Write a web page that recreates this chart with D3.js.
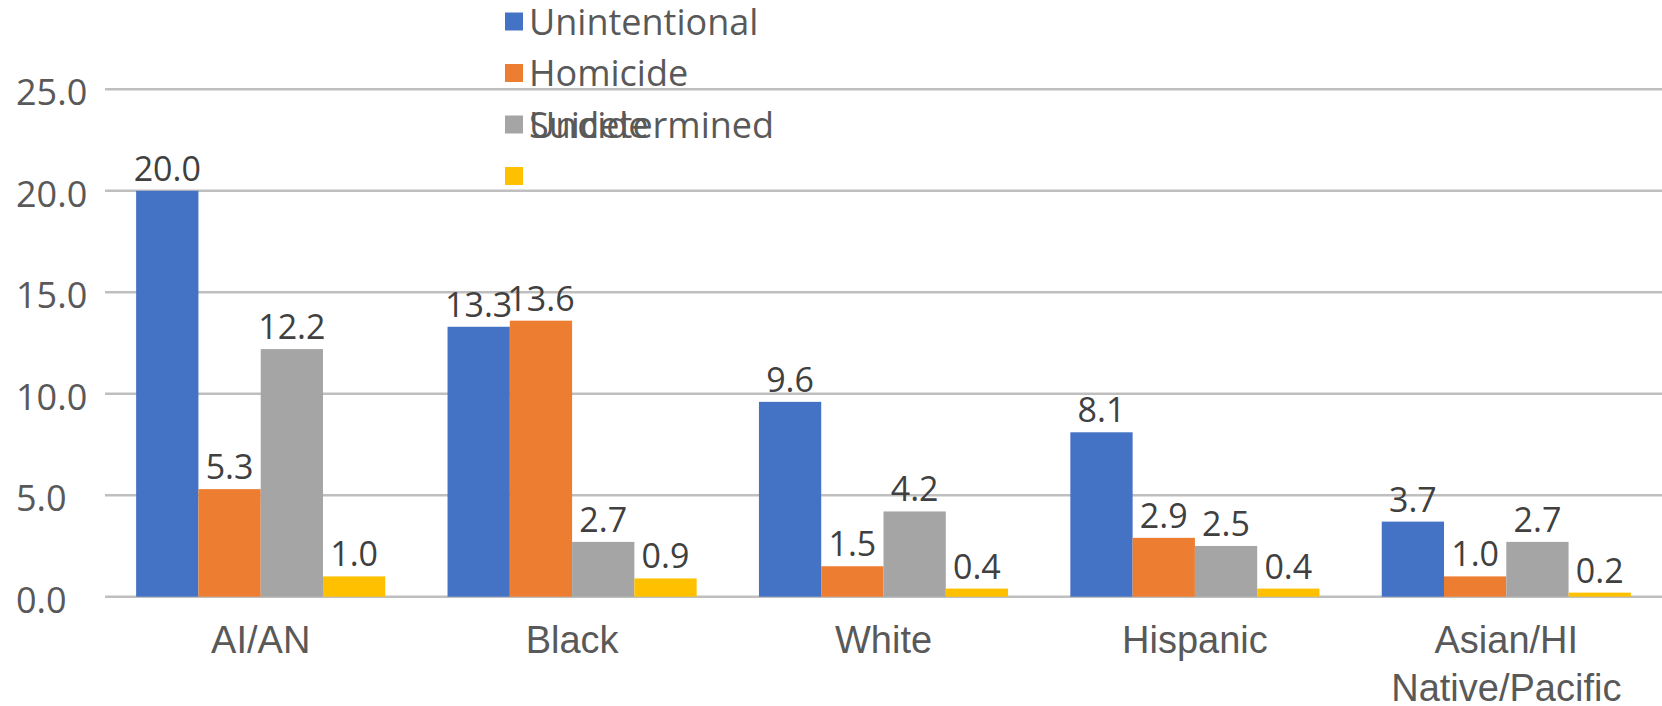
<!DOCTYPE html>
<html>
<head>
<meta charset="utf-8">
<script src="https://cdn.jsdelivr.net/npm/d3@7"></script>
<style>
    body { margin: 0; background: #fff; }
    svg { display: block; font-family: "Open Sans", "Noto Sans", sans-serif; }
</style>
</head>
<body>
<svg id="chart" width="1662" height="706"></svg>
<script>
const categories = ["AI/AN", "Black", "White", "Hispanic", "Asian/HI Native/Pacific"];
const seriesNames = ["Unintentional", "Homicide", "Suicide", "Undetermined"];
const unintentional = [20.0, 13.3, 9.6, 8.1, 3.7];
const homicide = [5.3, 13.6, 1.5, 2.9, 1.0];
const suicide = [12.2, 2.7, 4.2, 2.5, 2.7];
const undetermined = [1.0, 0.9, 0.4, 0.4, 0.2];
const yTicks = [0, 5, 10, 15, 20, 25];

const colors = ["#4472C4", "#ED7D31", "#A5A5A5", "#FFC000"];
const seriesValues = [unintentional, homicide, suicide, undetermined];

const svg = d3.select("#chart");
const plotLeft = 105, plotRight = 1662, plotTop = 89.3, plotBottom = 596.7;

const x = d3.scaleBand()
    .domain(categories)
    .range([plotLeft, plotRight])
    .paddingInner(0.2)
    .paddingOuter(0.1);

const xInner = d3.scaleBand()
    .domain(seriesNames)
    .range([0, x.bandwidth()]);

const y = d3.scaleLinear()
    .domain([0, 25])
    .range([plotBottom, plotTop]);

// gridlines
svg.append("g")
    .selectAll("line")
    .data(yTicks)
    .enter().append("line")
    .attr("x1", plotLeft)
    .attr("x2", plotRight)
    .attr("y1", d => y(d))
    .attr("y2", d => y(d))
    .attr("stroke", "#bfbfbf")
    .attr("stroke-width", 2.5);

// y tick labels (left aligned like the original)
svg.append("g")
    .selectAll("text")
    .data(yTicks)
    .enter().append("text")
    .attr("x", 16)
    .attr("y", d => y(d) + 16)
    .attr("font-size", 36)
    .attr("fill", "#595959")
    .text(d => d3.format(".1f")(d));

// bars
const rows = categories.map((c, i) => ({
    cat: c,
    values: seriesNames.map((s, j) => ({ series: s, idx: j, value: seriesValues[j][i] }))
}));

const group = svg.append("g")
    .selectAll("g")
    .data(rows)
    .enter().append("g")
    .attr("transform", d => `translate(${x(d.cat)},0)`);

group.selectAll("rect")
    .data(d => d.values)
    .enter().append("rect")
    .attr("x", d => xInner(d.series))
    .attr("y", d => y(d.value))
    .attr("width", xInner.bandwidth())
    .attr("height", d => y(0) - y(d.value))
    .attr("fill", d => colors[d.idx]);

group.selectAll("text")
    .data(d => d.values)
    .enter().append("text")
    .attr("x", d => xInner(d.series) + xInner.bandwidth() / 2)
    .attr("y", d => y(d.value) - 10)
    .attr("text-anchor", "middle")
    .attr("font-size", 34)
    .attr("fill", "#404040")
    .text(d => d3.format(".1f")(d.value));

// category axis
const xAxis = svg.append("g")
    .attr("transform", `translate(0,${plotBottom})`)
    .call(d3.axisBottom(x).tickSize(0).tickFormat(""));
xAxis.select(".domain").remove();

xAxis.selectAll(".tick").append("text")
    .attr("text-anchor", "middle")
    .attr("font-size", 38)
    .attr("fill", "#595959")
    .selectAll("tspan")
    .data(d => d.split(" "))
    .enter().append("tspan")
    .attr("x", 0)
    .attr("y", (d, i) => 56 + i * 48.5)
    .text(d => d);

// legend - the last label sits on the third row, overlapping "Suicide"
const legendRow = [0, 1, 2, 2];
const legend = svg.append("g");

legend.selectAll("rect")
    .data(seriesNames)
    .enter().append("rect")
    .attr("x", 505)
    .attr("y", (d, i) => 21.5 + i * 51.5 - 9)
    .attr("width", 18)
    .attr("height", 18)
    .attr("fill", (d, i) => colors[i]);

legend.selectAll("text")
    .data(seriesNames)
    .enter().append("text")
    .attr("x", 529)
    .attr("y", (d, i) => 21.5 + legendRow[i] * 51.5 + 13)
    .attr("font-size", 36)
    .attr("fill", "#595959")
    .text(d => d);
</script>
</body>
</html>
